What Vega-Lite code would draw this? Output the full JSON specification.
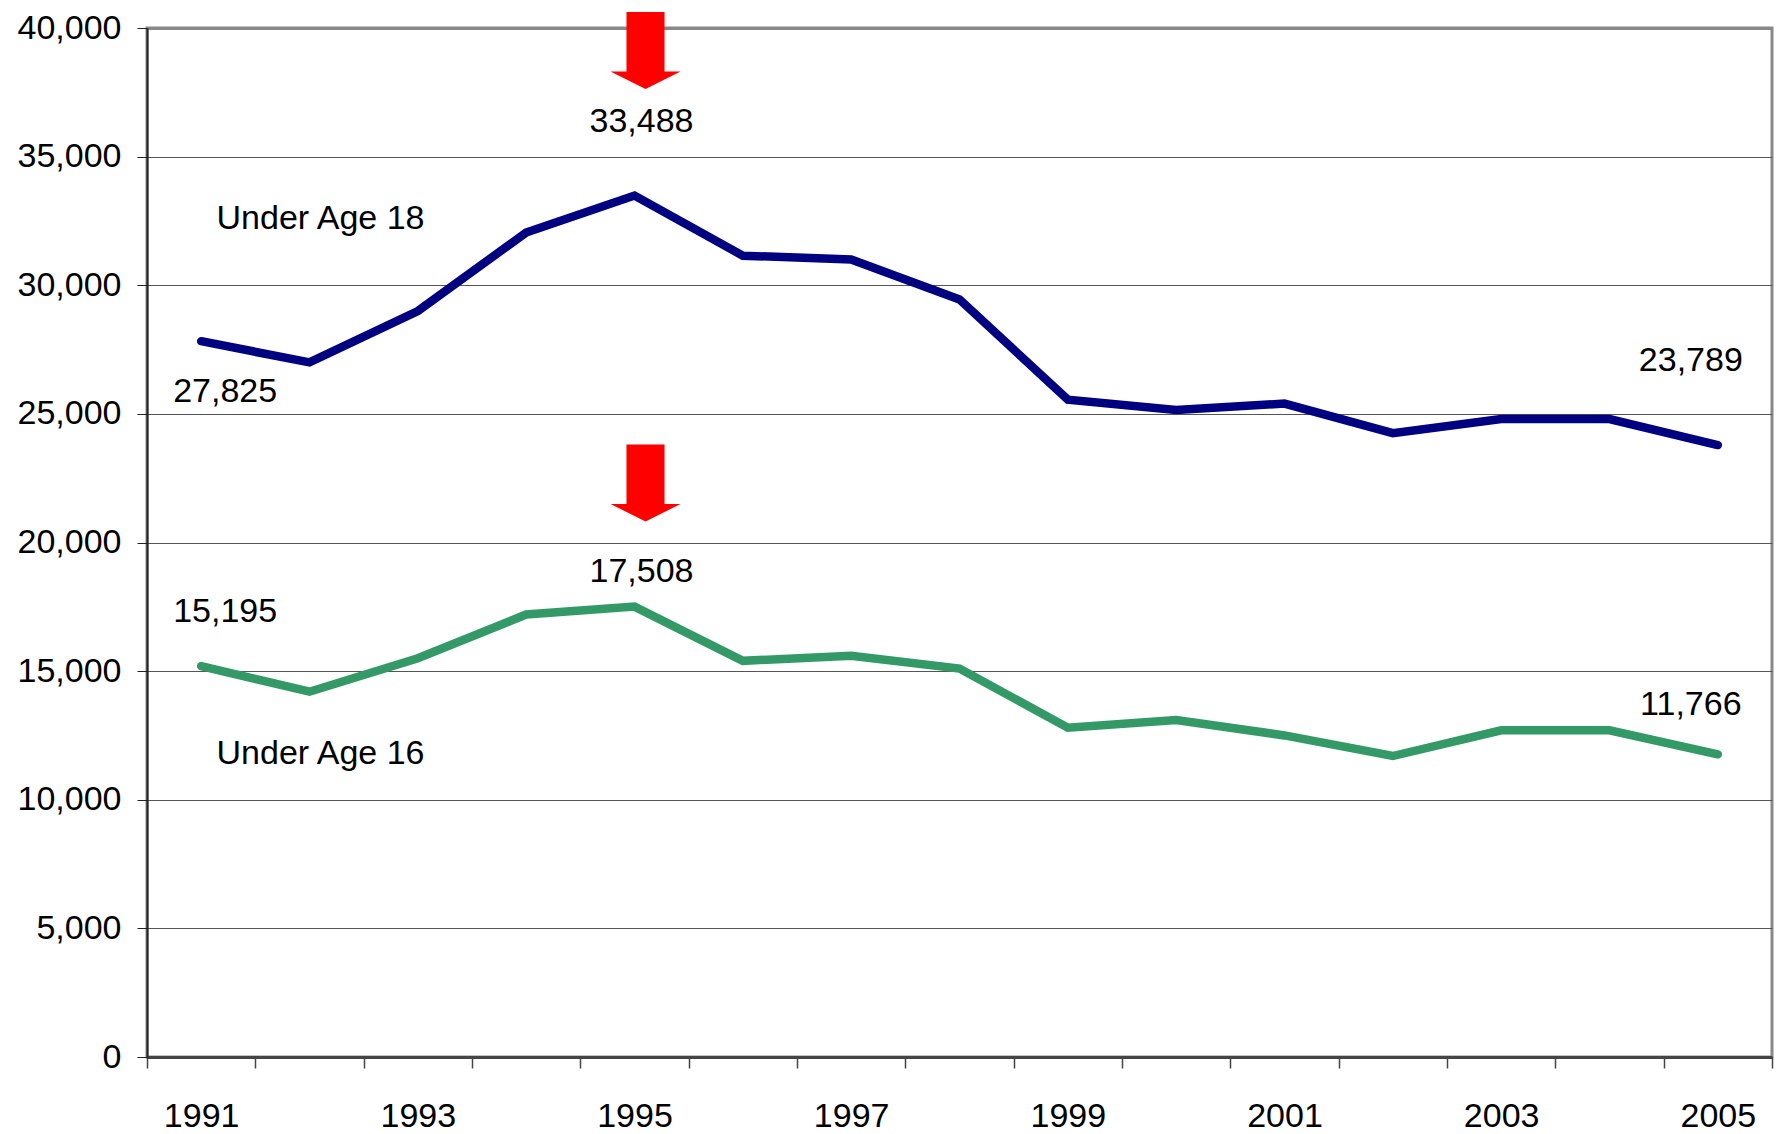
{
  "$schema": "https://vega.github.io/schema/vega-lite/v6.json",
  "width": 1625,
  "height": 1029,
  "autosize": {"type": "none"},
  "padding": {"left": 147, "top": 28, "right": 6, "bottom": 77},
  "background": "white",
  "config": {
    "view": {"stroke": "#888888", "strokeWidth": 3},
    "font": "Liberation Sans, Arial, sans-serif",
    "text": {"font": "Liberation Sans, Arial, sans-serif", "fontSize": 34, "color": "#000000"}
  },
  "datasets": {
    "series": [
      {"year": 1991, "group": "Under Age 18", "value": 27825},
      {"year": 1992, "group": "Under Age 18", "value": 27000},
      {"year": 1993, "group": "Under Age 18", "value": 29000},
      {"year": 1994, "group": "Under Age 18", "value": 32050},
      {"year": 1995, "group": "Under Age 18", "value": 33488},
      {"year": 1996, "group": "Under Age 18", "value": 31150},
      {"year": 1997, "group": "Under Age 18", "value": 31000},
      {"year": 1998, "group": "Under Age 18", "value": 29450},
      {"year": 1999, "group": "Under Age 18", "value": 25550},
      {"year": 2000, "group": "Under Age 18", "value": 25150},
      {"year": 2001, "group": "Under Age 18", "value": 25400},
      {"year": 2002, "group": "Under Age 18", "value": 24250},
      {"year": 2003, "group": "Under Age 18", "value": 24800},
      {"year": 2004, "group": "Under Age 18", "value": 24800},
      {"year": 2005, "group": "Under Age 18", "value": 23789},
      {"year": 1991, "group": "Under Age 16", "value": 15195},
      {"year": 1992, "group": "Under Age 16", "value": 14200},
      {"year": 1993, "group": "Under Age 16", "value": 15500},
      {"year": 1994, "group": "Under Age 16", "value": 17200},
      {"year": 1995, "group": "Under Age 16", "value": 17508},
      {"year": 1996, "group": "Under Age 16", "value": 15400},
      {"year": 1997, "group": "Under Age 16", "value": 15600},
      {"year": 1998, "group": "Under Age 16", "value": 15100},
      {"year": 1999, "group": "Under Age 16", "value": 12800},
      {"year": 2000, "group": "Under Age 16", "value": 13100},
      {"year": 2001, "group": "Under Age 16", "value": 12500},
      {"year": 2002, "group": "Under Age 16", "value": 11700},
      {"year": 2003, "group": "Under Age 16", "value": 12700},
      {"year": 2004, "group": "Under Age 16", "value": 12700},
      {"year": 2005, "group": "Under Age 16", "value": 11766}
    ],
    "arrows": [
      {"year": 1995, "value": 39125},
      {"year": 1995, "value": 22313}
    ]
  },
  "layer": [
    {
      "data": {"name": "series"},
      "mark": {"type": "line", "strokeWidth": 8.5, "strokeJoin": "miter", "strokeCap": "round"},
      "encoding": {
        "x": {
          "field": "year", "type": "ordinal",
          "scale": {"paddingInner": 0, "paddingOuter": 0},
          "axis": {
            "title": null,
            "tickBand": "extent",
            "labelAngle": 0,
            "labelFont": "Liberation Sans, Arial, sans-serif",
            "labelFontSize": 34,
            "labelColor": "#000000",
            "labelPadding": 31,
            "labelExpr": "(+datum.value) % 2 == 1 ? datum.label : ''",
            "domainColor": "#444444",
            "domainWidth": 3,
            "tickColor": "#444444",
            "tickWidth": 1.5,
            "tickSize": 11,
            "grid": false
          }
        },
        "y": {
          "field": "value", "type": "quantitative",
          "scale": {"domain": [0, 40000], "nice": false},
          "axis": {
            "title": null,
            "values": [0, 5000, 10000, 15000, 20000, 25000, 30000, 35000, 40000],
            "format": ",.0f",
            "labelFont": "Liberation Sans, Arial, sans-serif",
            "labelFontSize": 34,
            "labelColor": "#000000",
            "labelPadding": 16,
            "domainColor": "#222222",
            "domainWidth": 2,
            "tickColor": "#222222",
            "tickWidth": 1,
            "tickSize": 10,
            "grid": true,
            "gridColor": {"condition": {"test": "datum.value == 40000", "value": "#888888"}, "value": "#555555"},
            "gridWidth": {"condition": {"test": "datum.value == 40000", "value": 3}, "value": 1}
          }
        },
        "color": {
          "field": "group", "type": "nominal",
          "scale": {"domain": ["Under Age 18", "Under Age 16"], "range": ["#000080", "#339966"]},
          "legend": null
        }
      }
    },
    {
      "data": {"name": "arrows"},
      "mark": {
        "type": "point",
        "filled": true,
        "color": "#ff0000",
        "opacity": 1,
        "size": 5929,
        "xOffset": 11,
        "shape": "M-0.494,-1 L0.494,-1 L0.494,0.545 L0.91,0.545 L0,1 L-0.91,0.545 L-0.494,0.545 Z"
      },
      "encoding": {
        "x": {"field": "year", "type": "ordinal"},
        "y": {"field": "value", "type": "quantitative"}
      }
    },
    {
      "data": {"values": [
        {"year": 1995, "value": 36346, "text": "33,488"},
        {"year": 1995, "value": 18853, "text": "17,508"}
      ]},
      "mark": {"type": "text", "dx": 7, "baseline": "middle", "align": "center"},
      "encoding": {
        "x": {"field": "year", "type": "ordinal"},
        "y": {"field": "value", "type": "quantitative"},
        "text": {"field": "text"}
      }
    },
    {
      "data": {"values": [
        {"year": 1991, "value": 25850, "text": "27,825"},
        {"year": 1991, "value": 17298, "text": "15,195"}
      ]},
      "mark": {"type": "text", "dx": 24, "baseline": "middle", "align": "center"},
      "encoding": {
        "x": {"field": "year", "type": "ordinal"},
        "y": {"field": "value", "type": "quantitative"},
        "text": {"field": "text"}
      }
    },
    {
      "data": {"values": [
        {"year": 2005, "value": 27055, "text": "23,789"},
        {"year": 2005, "value": 13683, "text": "11,766"}
      ]},
      "mark": {"type": "text", "dx": -27, "baseline": "middle", "align": "center"},
      "encoding": {
        "x": {"field": "year", "type": "ordinal"},
        "y": {"field": "value", "type": "quantitative"},
        "text": {"field": "text"}
      }
    },
    {
      "data": {"values": [
        {"year": 1992, "value": 32575, "text": "Under Age 18"},
        {"year": 1992, "value": 11778, "text": "Under Age 16"}
      ]},
      "mark": {"type": "text", "dx": 11, "baseline": "middle", "align": "center"},
      "encoding": {
        "x": {"field": "year", "type": "ordinal"},
        "y": {"field": "value", "type": "quantitative"},
        "text": {"field": "text"}
      }
    }
  ]
}
